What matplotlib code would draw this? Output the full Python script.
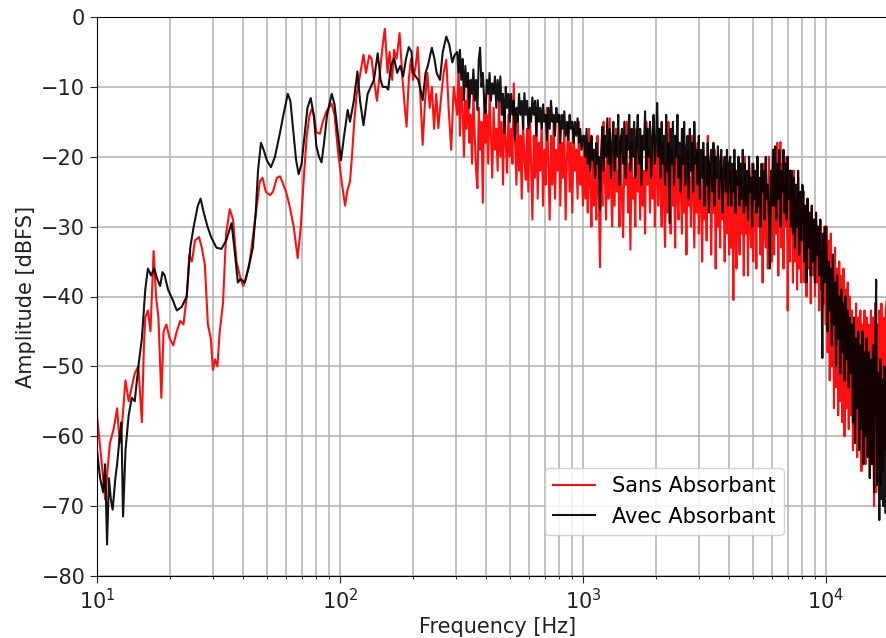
import numpy as np
import matplotlib
matplotlib.use("Agg")
import matplotlib.pyplot as plt

# spectre basse frequence, lu point par point (Hz, dBFS)
sans_bf_freq = [10, 10.4, 10.8, 11.1, 11.3, 11.7, 12.1, 12.4, 12.7, 13.1, 13.5, 13.9, 14.3, 14.8,
                15.3, 15.6, 15.8, 16.2, 16.6, 17.1, 17.5, 17.9, 18.4, 18.8, 19.3, 19.9, 20.6, 21.3,
                22, 22.7, 23.4, 24, 24.6, 25.3, 26.3, 27, 27.8, 28.6, 29.4, 30, 30.6, 31.3, 32, 33,
                34, 35.2, 36.3, 37.5, 39, 40, 41, 42.5, 44, 45.5, 46.8, 48, 49.5, 51.5, 53, 55,
                56.7, 58.5, 60, 62, 64.5, 67, 69, 71, 73, 75, 76.5, 78, 80, 82.7, 85, 88, 92.5,
                95, 98, 102, 105, 107, 110, 112, 114.5, 117, 120, 125, 128, 132, 135, 138, 142,
                146, 150, 153, 157, 160, 164, 167, 171, 176, 181, 185, 188, 192, 196, 200, 205,
                209, 214, 219, 224, 229, 234, 239, 244, 249, 254, 260, 267, 274, 280, 287, 294]
sans_bf_db = [-57, -63, -69, -64, -61, -59, -56, -61, -58, -52, -55, -53, -51, -50,
              -58, -47, -43, -42, -45, -33.5, -40, -43, -54.5, -45, -44, -46, -47, -45,
              -43.5, -44, -40, -34, -35, -32, -31.5, -33, -35.5, -44, -46, -50.5, -49, -50, -45, -41,
              -31, -27.5, -29, -35, -37.5, -38.5, -37.5, -35, -31, -27, -23.5, -23, -25, -25.5, -25, -23,
              -22.8, -24, -25, -27, -30, -34.5, -30, -23, -17, -14, -13.2, -14, -16.5, -16.7, -15, -13.5, -12.4,
              -14, -19, -24, -27, -25, -23.5, -20, -15, -11.2, -9, -5.4, -8, -5.5, -6, -9, -12,
              -8, -4, -1.7, -8, -5, -9, -4.7, -6, -2.3, -9, -13, -15.7, -9, -6, -9, -7,
              -4.3, -11, -18.3, -12, -8, -13, -10, -16, -11, -15.9, -12, -8, -6.1, -13, -19, -10]

avec_bf_freq = [10, 10.3, 10.6, 10.8, 11, 11.2, 11.4, 11.6, 11.9, 12.1, 12.4, 12.6, 12.8, 13.1,
                13.5, 13.9, 14.3, 14.8, 15.3, 15.8, 16.2, 16.7, 17.2, 17.7, 18.2, 18.6, 19, 19.6,
                20.5, 21.3, 22.3, 23.4, 24.2, 25, 26, 26.7, 27.5, 28.5, 29.5, 31, 32.5, 34, 35.8,
                37, 38, 39, 40.5, 42, 43.8, 45, 46, 47.3, 48.5, 50, 52, 54, 56.7, 58.5, 61, 62.5,
                64.5, 66, 67.6, 69.5, 71.5, 73.5, 75.8, 78, 80, 82, 84, 86, 88.5, 92.5, 95, 97.5,
                101, 104, 107.6, 110, 114, 118, 121, 125, 130, 134, 138, 143, 147, 150, 155, 158,
                162, 167, 172, 177, 182, 187, 192, 197, 200, 205, 210, 215, 219, 225, 230, 235,
                239, 245, 250, 258, 265, 274, 282, 290, 296]
avec_bf_db = [-62, -66, -68, -64, -75.5, -66, -69, -70.5, -66, -64, -60, -58, -71.5, -62,
              -57, -54.5, -55, -50, -46, -39, -36, -37, -36, -37.5, -38.5, -36.5, -37, -39,
              -40.5, -42, -41.5, -40, -33, -30, -27, -26, -28, -30, -31.5, -33, -33.2, -32, -29.5,
              -34, -38, -37.5, -38, -36, -33, -28, -22, -18, -19, -20.5, -21.5, -20, -16.5, -14, -11, -12,
              -17, -20.5, -22.5, -21, -17, -13, -11.6, -14, -18.5, -20, -20.8, -18, -14, -11, -12.5, -16,
              -20.5, -17, -13.3, -15, -12, -7.8, -12, -15.5, -11, -10, -9, -5.2, -9, -10, -10, -10.4,
              -7, -5.9, -8, -7, -8.5, -6, -4.3, -5, -8, -8.5, -9, -10.5, -11.9, -8, -7, -5.5,
              -4.4, -6, -8, -9, -5, -2.8, -4, -6.5, -5.5]

# partie bruitee : valeurs lues bande par bande, frequences reparties en log dans chaque bande
bandes = [(300, 500), (500, 1000), (1000, 2000), (2000, 4000), (4000, 8000), (8000, 17800)]

sans_bruit = [
    [-14, -7, -17, -10, -13, -20, -12, -16, -9, -18, -14, -21, -11, -17, -22, -24.5, -13, -19, -15, -26.6,
     -12, -18, -14, -21, -11, -17, -23, -13, -19, -16, -22, -12, -20, -15, -24, -13, -18, -22.3, -14, -20],
    [-16, -21, -9.5, -18, -24, -14, -22, -17, -26, -15, -20, -23.3, -16, -25, -13, -21, -29, -17, -23, -14,
     -26, -18, -22, -15, -27, -19, -24, -13, -21, -29, -17, -24, -15, -26, -19, -22, -14, -27, -18, -23,
     -16, -29, -20, -15, -25, -18, -28, -16, -22, -19, -26, -15, -24, -20, -27],
    [-18, -26, -20, -28, -16, -24, -30, -19, -27, -22, -29, -17, -25, -35.8, -21, -27, -15, -23, -29, -18,
     -26, -14.5, -24, -30, -19, -27, -16, -25, -22, -30, -17, -26, -31.5, -20, -24, -15, -28, -21, -33.3, -18,
     -26, -23, -30, -16, -25, -20, -29, -17, -27, -22, -31, -15, -24, -19, -28, -21, -26, -16, -30, -22],
    [-19, -27, -16, -24, -30, -18, -26, -32.9, -21, -28, -15, -25, -31, -19, -27, -22, -33, -17, -26, -29,
     -20, -24, -31, -16, -28, -22, -34, -19, -27, -23, -30, -17, -25, -33, -20, -28, -18, -31, -22, -26,
     -35, -19, -29, -24, -32, -17, -27, -21, -34, -23, -28, -19, -36, -22, -30, -25, -33, -20, -29, -24,
     -35, -21, -31, -26, -34],
    [-22, -33, -25, -40.5, -21, -30, -36, -23, -29, -34, -21, -31, -26, -37,
     -20, -31, -24, -37, -22, -29, -33, -21, -35, -26, -23, -36, -20, -30, -25, -34, -22, -38, -21, -29,
     -33, -24, -36, -20, -31, -27, -35,
     -19, -34, -22, -31, -18, -37, -23, -17.9, -33, -21, -36, -24, -30, -20, -42, -25, -35, -22,
     -24, -38, -22, -35, -26, -39, -23, -36, -25, -38, -27],
    [-25, -38, -27, -40, -26, -36, -28, -41, -27, -37, -29, -40, -28, -38, -30, -42, -29, -39, -31, -41, -30, -44,
     -30, -48, -32, -52, -31, -50, -34, -56, -33, -53, -36, -57, -35, -55, -37, -58, -36, -60, -39, -56, -38,
     -59, -40, -57,
     -42, -62, -44, -58, -41, -63, -43, -60, -42, -65, -44, -61, -42, -64, -43, -62,
     -44, -66, -42, -64, -43, -70, -41, -68, -44, -63, -42, -67, -41, -65, -43, -62, -42, -40.5],
]

avec_bruit = [
    [-5, -8, -4.7, -9, -6, -11.9, -7, -10, -8, -13, -9, -11, -7.5, -12, -9, -13.3, -6, -4.4, -10, -8,
     -12, -13.8, -9, -11, -8, -12, -9.5, -11, -8.5, -13, -9, -12, -8.5, -14, -11, -16.6, -10, -13, -11, -15],
    [-11, -14, -12, -17.6, -13, -15, -11, -14, -12, -16, -10.9, -14, -12, -16, -13, -15, -11.5, -14, -12, -17,
     -11.9, -15, -13, -16, -12.5, -15, -14, -17.6, -13, -16, -12, -15, -14, -17, -13, -15, -14, -18, -14, -16,
     -13.5, -17, -15, -17.6, -14, -16, -15, -18, -15, -17, -14.5, -18, -16, -19, -17],
    [-17, -20, -16, -21, -18, -22, -17, -20.5, -19, -23, -18, -21, -20, -27.6, -19, -15.7, -22, -17, -20, -14.5,
     -21, -16, -23, -18, -15, -22, -17, -20, -14, -24, -18, -16, -21, -15, -23, -17, -19, -14, -22, -16,
     -20, -15, -23, -18, -14, -21, -16, -24, -17, -19, -13.5, -22, -16, -20, -15, -23, -17, -14, -21, -18],
    [-12.3, -20, -16, -23, -15, -21, -17, -24, -14, -22, -18, -29.5, -16, -21, -15, -24, -17, -20, -14, -23,
     -18, -25, -16, -21, -15, -24, -19, -17, -26, -16, -22, -18, -25, -15, -21, -19, -24, -17, -26, -19,
     -23, -18, -27, -20, -24, -18, -28, -21, -19, -25, -18, -27, -20, -23, -18.5, -26, -21, -19, -28, -22,
     -20, -25, -19, -27, -21],
    [-20, -27, -21, -25, -19, -28, -22, -24, -20, -27, -21, -26, -19, -28,
     -21, -27, -22, -29, -20, -25, -23, -30, -21, -26, -22, -28, -20, -27, -23, -30, -21, -25, -22, -29,
     -20, -26, -24, -28, -36, -22, -27,
     -19, -27, -18.5, -29, -21, -26, -19, -30, -22, -25, -19, -28, -21, -29, -20, -26, -22, -30,
     -22, -31, -23, -33, -24, -30, -22, -34, -25, -32, -24],
    [-25, -35, -27, -38, -26, -33, -28, -37, -27, -35, -29, -38, -28, -34, -30, -37, -29, -36, -48.8, -31, -38, -30,
     -33, -45, -35, -42, -36, -47, -34, -44, -38, -50, -37, -46, -40, -51, -39, -48, -41, -52, -40, -49, -42,
     -53, -43, -51,
     -44, -58, -43, -61, -46, -56, -45, -62, -47, -59, -45, -64, -48, -60, -46, -63,
     -48, -66, -49, -64, -47, -68, -50, -37.6, -67, -51, -72, -49, -69, -52, -70, -50, -71, -53],
]


def assemble(bf_freq, bf_db, valeurs):
    f = list(bf_freq)
    a = list(bf_db)
    for (f0, f1), vals in zip(bandes, valeurs):
        ff = np.geomspace(f0, f1, len(vals) + 1)[1:]
        f += list(ff)
        a += list(vals)
    return np.array(f), np.array(a)


f_sans, db_sans = assemble(sans_bf_freq, sans_bf_db, sans_bruit)
f_avec, db_avec = assemble(avec_bf_freq, avec_bf_db, avec_bruit)

plt.rcParams['font.family'] = ['DejaVu Sans']
plt.rcParams['font.size'] = 15

fig = plt.figure(figsize=(8.86, 6.38), dpi=100)
ax = fig.add_axes([97 / 886, 1 - 576 / 638, 802 / 886, 559 / 638])

ax.semilogx(f_sans, db_sans, color='#ff1010', lw=1.5, label='Sans Absorbant')
ax.semilogx(f_avec, db_avec, color='#000000', lw=1.5, alpha=0.92, label='Avec Absorbant')

ax.set_xlim(10, 20000)
ax.set_ylim(-80, 0)
ax.set_yticks(np.arange(-80, 1, 10))
ax.grid(True, which='major', axis='both', color='#b0b0b0', lw=1.1)
ax.grid(True, which='minor', axis='x', color='#b0b0b0', lw=1.1)
ax.set_axisbelow(True)
ax.tick_params(which='major', length=5, labelsize=15, colors='#222222')
ax.tick_params(which='minor', length=2.5)

ax.set_xlabel('Frequency [Hz]', fontsize=15, color='#222222', labelpad=3)
ax.set_ylabel('Amplitude [dBFS]', fontsize=15, color='#222222')

ax.legend(loc='lower left', bbox_to_anchor=(0.5586, 0.0733), borderaxespad=0,
          fontsize=15, framealpha=0.85)

fig.savefig('out.png', dpi=100)
